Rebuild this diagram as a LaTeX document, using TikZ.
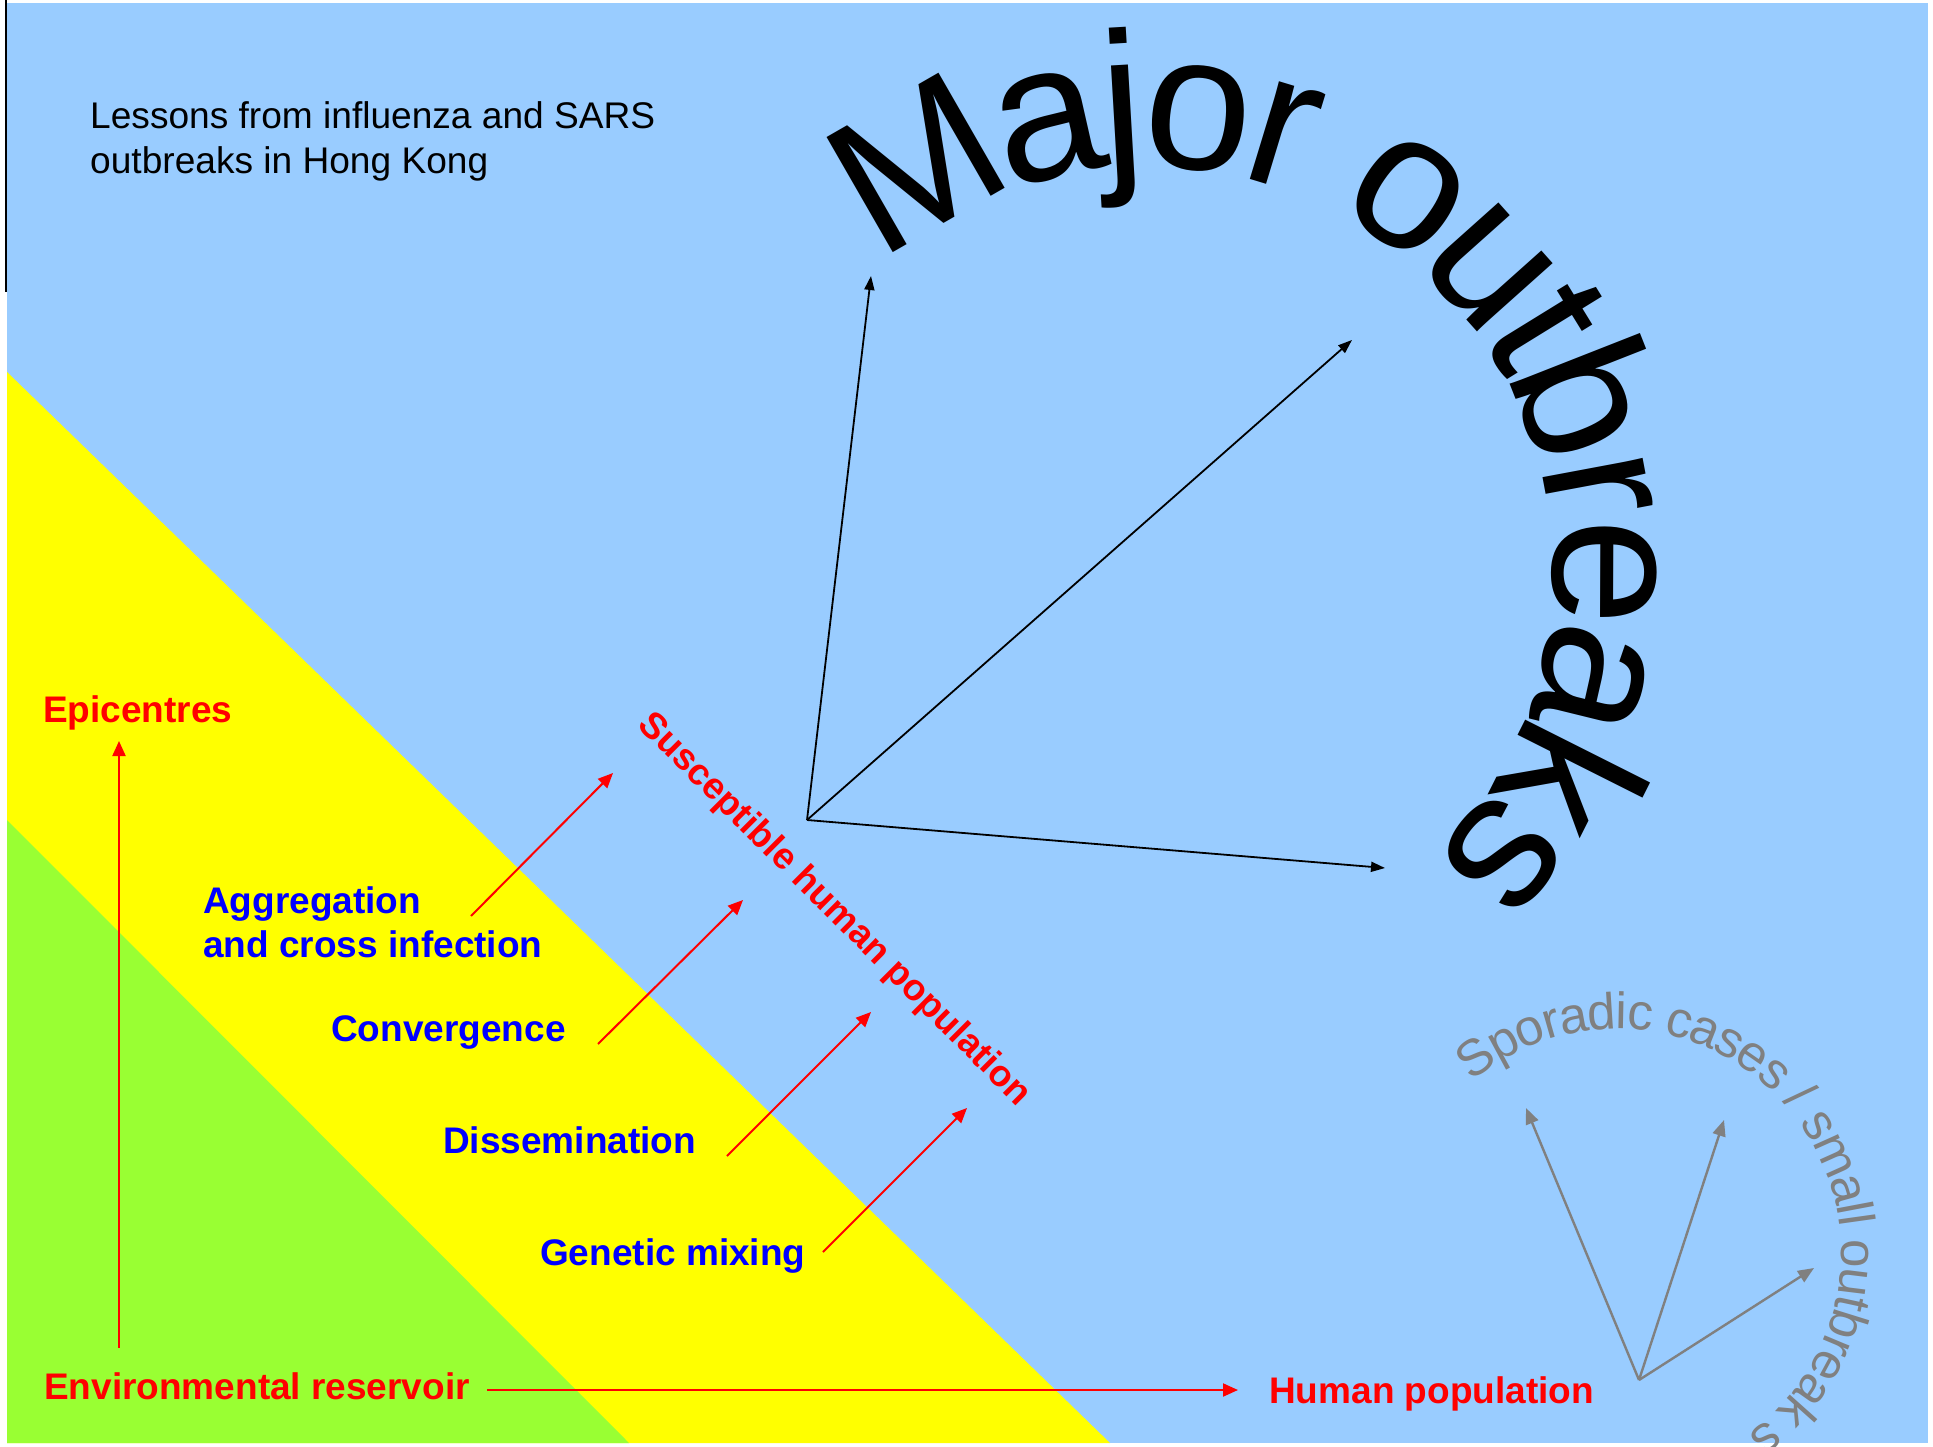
\documentclass[tikz,border=0pt]{standalone}
\usepackage{fontspec}
\setmainfont{Liberation Sans}
\usetikzlibrary{arrows.meta,decorations.text}
\definecolor{skyb}{RGB}{153,204,255}
\definecolor{yel}{RGB}{255,255,0}
\definecolor{grn}{RGB}{153,255,51}
\definecolor{grayc}{RGB}{128,128,128}
\definecolor{redc}{RGB}{255,0,0}
\definecolor{bluec}{RGB}{0,0,255}
\tikzset{
  plainlab/.style={font=\fontsize{37.1}{45}\selectfont, inner sep=0pt, anchor=base west, text=black},
  lab/.style={font=\fontsize{37}{45}\selectfont\bfseries, inner sep=0pt, anchor=base west},
  redlab/.style={lab, text=redc},
  bluelab/.style={lab, text=bluec},
  redarrow/.style={draw=redc, line width=2pt, -{Triangle[length=15pt,width=13pt]}},
  blackarrow/.style={draw=black, line width=1.8pt, -{Triangle[length=14pt,width=10pt]}},
  grayarrow/.style={draw=grayc, line width=2.4pt, -{Triangle[length=16pt,width=13pt]}},
}
\begin{document}
\begin{tikzpicture}[x=1pt,y=1pt]
\useasboundingbox (0,0) rectangle (1933,-1447);
\fill[white] (0,0) rectangle (1933,-1447);
% background bands
\fill[skyb] (7,-3) rectangle (1928,-1443);
\fill[yel] (7,-372) -- (1110,-1443) -- (7,-1443) -- cycle;
\fill[grn] (7,-820) -- (629,-1443) -- (7,-1443) -- cycle;
\draw[line width=1.5pt] (6,0) -- (6,-292);

% title
\node[plainlab] (les1) at (90,-129) {Lessons from influenza and SARS};
\node[plainlab] (les2) at (90,-174) {outbreaks in Hong Kong};

% curved headings
\path[decorate, decoration={text along path, text align=left, raise=-50pt,
  text={|\fontsize{193}{200}\selectfont\color{black}|Major outbreaks}}]
  ([shift={(130:453)}]1150,-570) arc[start angle=130, end angle=-62, radius=453];
\path[decorate, decoration={text along path, text align=left, raise=-13pt,
  text={|\fontsize{51}{60}\selectfont\color{grayc}|Sporadic cases / small outbreak s}}]
  ([shift={(130:237)}]1617,-1253) arc[start angle=130, end angle=-80, radius=237];

% labels
\node[redlab] (epi) at (43,-722) {Epicentres};
\node[redlab] (env) at (44,-1399) {Environmental reservoir};
\node[redlab] (hum) at (1269,-1403) {Human population};
\node[bluelab] (agg1) at (203,-913) {Aggregation};
\node[bluelab] (agg2) at (203,-957) {and cross infection};
\node[bluelab] (conv) at (331,-1041) {Convergence};
\node[bluelab] (diss) at (443,-1153) {Dissemination};
\node[bluelab] (gen) at (540,-1265) {Genetic mixing};
\node[redlab, anchor=center, rotate=-45] (shp) at (834,-910) {Susceptible human population};

% arrow end points
\coordinate (epiS) at (119,-1348);
\coordinate (epiT) at (119,-741);
\coordinate (envS) at (487,-1390);
\coordinate (envT) at (1238,-1390);
\coordinate (aggS) at (471,-916);
\coordinate (aggT) at (613,-773);
\coordinate (convS) at (598,-1044);
\coordinate (convT) at (743,-900);
\coordinate (dissS) at (727,-1156);
\coordinate (dissT) at (871,-1012);
\coordinate (genS) at (823,-1252);
\coordinate (genT) at (967,-1108);
\coordinate (src) at (807,-820);
\coordinate (bt1) at (871,-276);
\coordinate (bt2) at (1352,-340);
\coordinate (bt3) at (1385,-868);
\coordinate (gsrc) at (1639,-1380);
\coordinate (gt1) at (1526,-1108);
\coordinate (gt2) at (1724,-1120);
\coordinate (gt3) at (1814,-1268);

% red arrows
\draw[redarrow] (epiS) -- (epiT);
\draw[redarrow] (envS) -- (envT);
\draw[redarrow] (aggS) -- (aggT);
\draw[redarrow] (convS) -- (convT);
\draw[redarrow] (dissS) -- (dissT);
\draw[redarrow] (genS) -- (genT);

% black arrows
\draw[blackarrow] (src) -- (bt1);
\draw[blackarrow] (src) -- (bt2);
\draw[blackarrow] (src) -- (bt3);

% gray arrows
\draw[grayarrow] (gsrc) -- (gt1);
\draw[grayarrow] (gsrc) -- (gt2);
\draw[grayarrow] (gsrc) -- (gt3);
\end{tikzpicture}
\end{document}
